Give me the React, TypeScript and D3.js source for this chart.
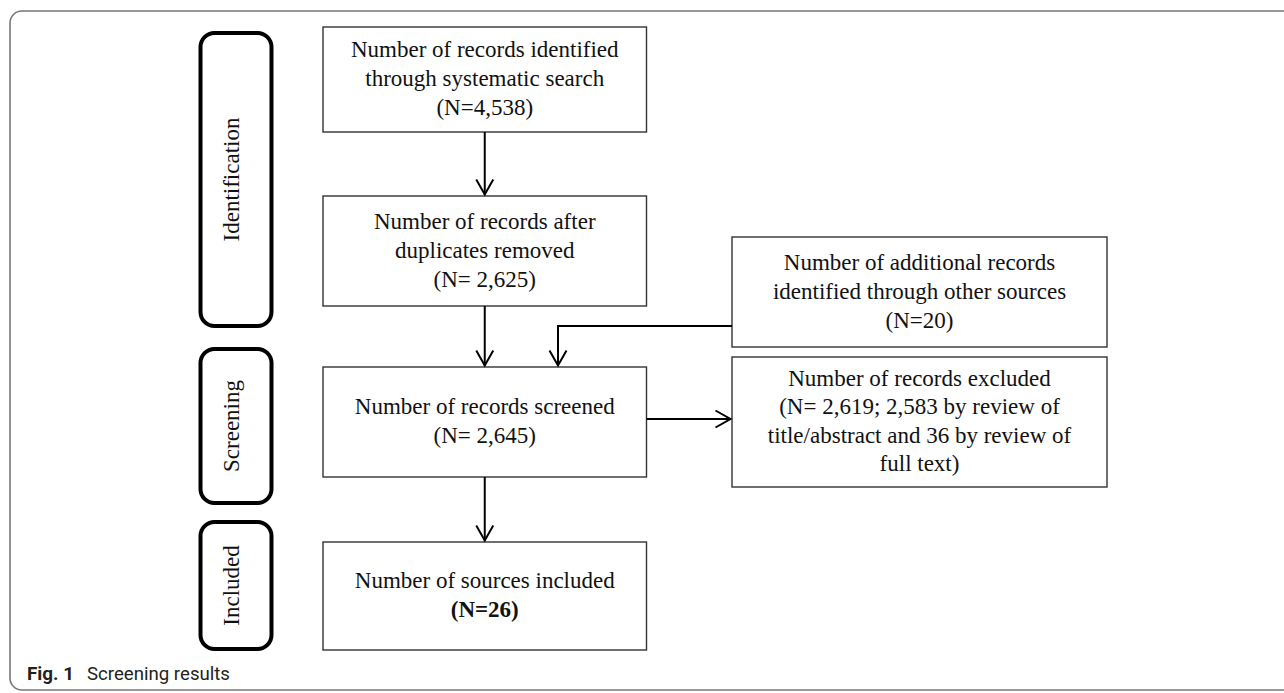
import React from "react";
import * as d3 from "d3";

// stage labels on the left
const stages = ["Identification", "Screening", "Included"];

// text of each flow box (main column first, then the side boxes)
const boxTexts = [
  ["Number of records identified", "through systematic search", "(N=4,538)"],
  ["Number of records after", "duplicates removed", "(N= 2,625)"],
  ["Number of records screened", "(N= 2,645)"],
  ["Number of sources included", "(N=26)"],
  ["Number of additional records", "identified through other sources", "(N=20)"],
  ["Number of records excluded", "(N= 2,619; 2,583 by review of", "title/abstract and 36 by review of", "full text)"],
];
const boldLines = ["(N=26)"];

// links between boxes: [from, to]
const links = [[0, 1], [1, 2], [2, 3], [4, 2], [2, 5]];

const captionLabel = "Fig. 1";
const captionText = "Screening results";

const W = 1284;
const H = 693;

// layout (pixels)
const stageRects = [
  {x0: 200.5, x1: 271.5, y0: 33, y1: 326},
  {x0: 200.5, x1: 271.5, y0: 349, y1: 503},
  {x0: 200.5, x1: 271.5, y0: 522, y1: 649},
];
const boxRects = [
  {x0: 323, x1: 646.5, y0: 27, y1: 132, lh: 29},
  {x0: 323, x1: 646.5, y0: 196, y1: 306, lh: 29},
  {x0: 323, x1: 646.5, y0: 367, y1: 477, lh: 28.5},
  {x0: 323, x1: 646.5, y0: 542, y1: 650, lh: 29},
  {x0: 732, x1: 1107, y0: 237, y1: 347, lh: 29},
  {x0: 732, x1: 1107, y0: 357, y1: 487, lh: 28.3},
];

const serif = "'Liberation Serif', 'Times New Roman', serif";
const line = d3.line();

type Pt = [number, number];

// shaft points for each link
function linkPoints(from: number, to: number): Pt[] {
  const a = boxRects[from];
  const b = boxRects[to];
  const ax = (a.x0 + a.x1) / 2;
  if (from === 4) {
    // elbow from the side box into the screened box
    const y = 326;
    const x = 558;
    return [[a.x0, y], [x, y], [x, b.y0 - 1.5]];
  }
  if (to === 5) {
    const y = 419;
    return [[a.x1, y], [b.x0 - 1.5, y]];
  }
  return [[ax, a.y1], [ax, b.y0 - 1.5]];
}

function arrowHead(pts: Pt[]): Pt[] {
  const [px, py] = pts[pts.length - 2];
  const [tx, ty] = pts[pts.length - 1];
  const ang = Math.atan2(ty - py, tx - px);
  const len = 15;
  const half = 8.5;
  const bx = tx - len * Math.cos(ang);
  const by = ty - len * Math.sin(ang);
  const nx = -Math.sin(ang);
  const ny = Math.cos(ang);
  return [[bx + nx * half, by + ny * half], [tx, ty], [bx - nx * half, by - ny * half]];
}

const App = () => {
  return (
    <svg width={W} height={H} style={{position: "absolute", left: 0, top: 0, background: "#fff"}}>
      {/* outer frame, open to the right */}
      <rect x={10} y={11} width={1300} height={679} rx={12} fill="none" stroke="#777" strokeWidth={1.6}/>

      {stages.map((s, i) => {
        const r = stageRects[i];
        const cy = (r.y0 + r.y1) / 2;
        return (
          <g key={s}>
            <rect x={r.x0} y={r.y0} width={r.x1 - r.x0} height={r.y1 - r.y0} rx={14}
                  fill="#fff" stroke="#000" strokeWidth={4}/>
            <text transform={`translate(238.5,${cy}) rotate(-90)`} textAnchor="middle"
                  fontFamily={serif} fontSize={23} fill="#111">{s}</text>
          </g>
        );
      })}

      {boxTexts.map((lines, i) => {
        const r = boxRects[i];
        const cx = (r.x0 + r.x1) / 2;
        const cy = (r.y0 + r.y1) / 2;
        const n = lines.length;
        return (
          <g key={i}>
            <rect x={r.x0} y={r.y0} width={r.x1 - r.x0} height={r.y1 - r.y0}
                  fill="#fff" stroke="#333" strokeWidth={1.4}/>
            {lines.map((t, j) => (
              <text key={j} x={cx} y={cy + (j - (n - 1) / 2) * r.lh + 6.5} textAnchor="middle"
                    fontFamily={serif} fontSize={23} fill="#111"
                    fontWeight={boldLines.includes(t) ? "bold" : "normal"}>{t}</text>
            ))}
          </g>
        );
      })}

      {links.map(([f, t], i) => {
        const pts = linkPoints(f, t);
        return (
          <g key={i} fill="none" stroke="#000" strokeWidth={2}>
            <path d={line(pts) || ""}/>
            <path d={line(arrowHead(pts)) || ""} strokeLinejoin="miter"/>
          </g>
        );
      })}

      <text x={27} y={680} fontFamily="Roboto, 'Noto Sans', sans-serif" fontSize={18.5} fill="#231f20">
        <tspan fontWeight="bold" textLength={47} lengthAdjust="spacingAndGlyphs">{captionLabel}</tspan>
        <tspan x={87} textLength={143} lengthAdjust="spacingAndGlyphs">{captionText}</tspan>
      </text>
    </svg>
  );
};

export default App;
